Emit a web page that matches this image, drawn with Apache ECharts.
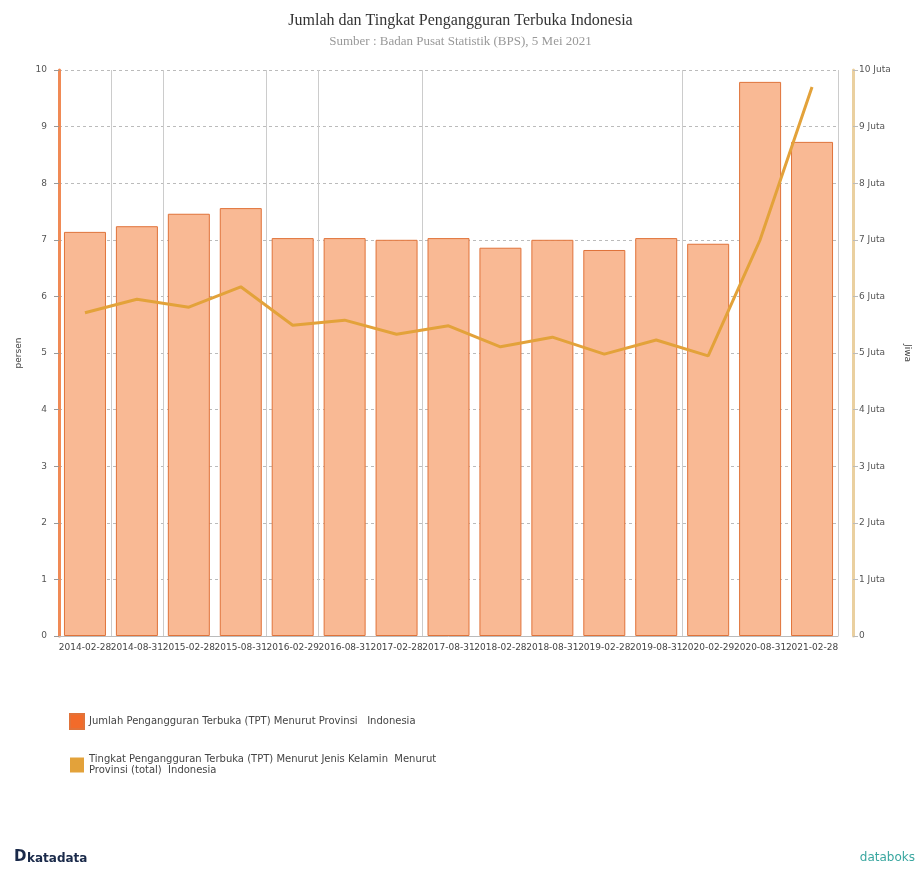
<!DOCTYPE html>
<html><head><meta charset="utf-8">
<script src="https://cdn.jsdelivr.net/npm/echarts@6/dist/echarts.min.js"></script>
<style>html,body{margin:0;padding:0;background:#fff}#c{width:921px;height:872px}</style>
</head><body><div id="c"></div>
<script>
var categories = ["2014-02-28","2014-08-31","2015-02-28","2015-08-31","2016-02-29","2016-08-31","2017-02-28","2017-08-31","2018-02-28","2018-08-31","2019-02-28","2019-08-31","2020-02-29","2020-08-31","2021-02-28"];
var jumlahJuta = [7.14,7.24,7.46,7.56,7.03,7.03,7.00,7.03,6.86,7.00,6.82,7.03,6.93,9.79,8.73];
var tingkatPersen = [5.71,5.95,5.81,6.17,5.49,5.58,5.33,5.48,5.11,5.28,4.98,5.23,4.95,7.00,9.70];
var leftTicks = [0,1,2,3,4,5,6,7,8,9,10];
var rightTickLabels = ["0","1 Juta","2 Juta","3 Juta","4 Juta","5 Juta","6 Juta","7 Juta","8 Juta","9 Juta","10 Juta"];
var vGridIdx = [1,2,4,5,7,12];
var seriesNames = ["Jumlah Pengangguran Terbuka (TPT) Menurut Provinsi   Indonesia","Tingkat Pengangguran Terbuka (TPT) Menurut Jenis Kelamin  Menurut Provinsi (total)  Indonesia"];

var chart = echarts.init(document.getElementById('c'));
var axFont = {color:'#555', fontSize:9, fontFamily:'DejaVu Sans'};
chart.setOption({
  animation:false,
  title:{
    text:'Jumlah dan Tingkat Pengangguran Terbuka Indonesia',
    subtext:'Sumber : Badan Pusat Statistik (BPS), 5 Mei 2021',
    left:'center', top:8, itemGap:6,
    textStyle:{fontFamily:'Liberation Serif', fontSize:16, fontWeight:'normal', color:'#333'},
    subtextStyle:{fontFamily:'Liberation Serif', fontSize:13, color:'#999'}
  },
  legend:{
    orient:'vertical', left:64, top:708, itemGap:24, itemWidth:14, itemHeight:15,
    icon:'rect', selectedMode:false,
    textStyle:{fontSize:10, color:'#444', fontFamily:'DejaVu Sans', lineHeight:11},
    formatter:function(n){ return n===seriesNames[1] ? 'Tingkat Pengangguran Terbuka (TPT) Menurut Jenis Kelamin  Menurut\nProvinsi (total)  Indonesia' : n; },
    data:[{name:seriesNames[0], itemStyle:{color:'#f26b2a'}},{name:seriesNames[1], itemStyle:{color:'#e3a23a'}}]
  },
  grid:{left:59, right:83, top:70, bottom:236},
  xAxis:{
    type:'category', data:categories,
    axisLine:{lineStyle:{color:'#bbb'}},
    axisTick:{show:false},
    axisLabel:{interval:0, fontSize:9, color:'#444', fontFamily:'DejaVu Sans', margin:7},
    splitLine:{show:true, interval:function(i){return vGridIdx.indexOf(i)>=0;}, lineStyle:{color:'#ccc', width:1}}
  },
  yAxis:[{
    type:'value', min:0, max:10, interval:1, name:'persen', nameLocation:'middle', nameGap:36, nameRotate:90,
    nameTextStyle:{fontSize:9, color:'#444', fontFamily:'DejaVu Sans'},
    axisLine:{show:true, lineStyle:{color:'#f08a55', width:3}},
    axisTick:{show:true, length:5, lineStyle:{color:'#999'}},
    axisLabel:Object.assign({margin:12, formatter:function(v){return String(v);}}, axFont),
    splitLine:{show:true, lineStyle:{color:'#bbb', type:[3,3]}}
  },{
    type:'value', min:0, max:10, interval:1, position:'right', offset:15, name:'Jiwa', nameLocation:'middle', nameGap:50, nameRotate:-90,
    nameTextStyle:{fontSize:9, color:'#444', fontFamily:'DejaVu Sans'},
    axisLine:{show:true, lineStyle:{color:'#ead0a0', width:3}},
    axisTick:{show:true, length:5, lineStyle:{color:'#bbb'}},
    axisLabel:Object.assign({margin:6, formatter:function(v){return rightTickLabels[Math.round(v)];}}, axFont),
    splitLine:{show:false}
  }],
  series:[{
    name:seriesNames[0], type:'bar', yAxisIndex:1, data:jumlahJuta, barWidth:42,
    itemStyle:{color:'#f9b994', borderColor:'#e0733a', borderWidth:1},
    z:2
  },{
    name:seriesNames[1], type:'line', yAxisIndex:0, data:tingkatPersen, symbol:'none',
    lineStyle:{color:'#e3a23a', width:3}, itemStyle:{color:'#e3a23a'}, z:3
  }],
  graphic:[
    {type:'text', left:14, top:850, style:{text:'D', font:'bold 15px DejaVu Sans', fill:'#1a2a4a'}},
    {type:'text', left:27, top:853, style:{text:'katadata', font:'bold 12px DejaVu Sans', fill:'#1a2a4a'}},
    {type:'text', right:6, top:852, style:{text:'databoks', font:'12px DejaVu Sans', fill:'#3aa7a0'}}
  ]
});
</script></body></html>
